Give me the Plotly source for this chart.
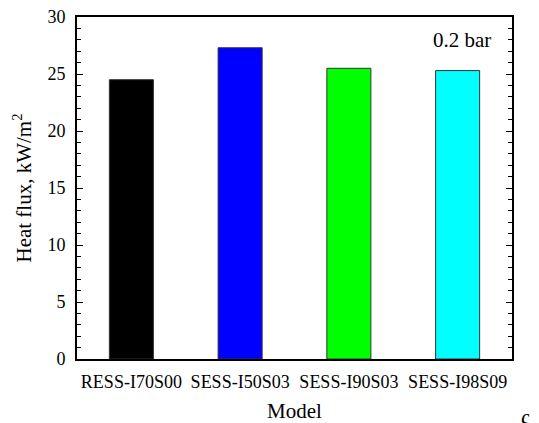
import plotly.graph_objects as go

models = ["RESS-I70S00", "SESS-I50S03", "SESS-I90S03", "SESS-I98S09"]
heat_flux = [24.5, 27.3, 25.5, 25.3]
colors = ["#000000", "#0000FF", "#00FF00", "#00FFFF"]

FONT = "Liberation Serif, Times New Roman, serif"
W, H = 539, 423
L, R, T, B = 77, 27, 17, 64

fig = go.Figure()
fig.add_trace(go.Bar(
    x=models, y=heat_flux,
    marker=dict(color=colors, line=dict(color="#333333", width=1)),
    width=0.405,
))

fig.update_layout(
    width=W, height=H,
    margin=dict(l=L, r=R, t=T, b=B, autoexpand=False),
    paper_bgcolor="white", plot_bgcolor="white",
    font=dict(family=FONT, size=18, color="black"),
    showlegend=False,
    xaxis=dict(
        showline=True, linecolor="black", linewidth=2, mirror=True,
        ticks="", showgrid=False,
        tickfont=dict(size=18), ticklabelstandoff=5,
        title=dict(text="Model", font=dict(size=21), standoff=16),
        automargin=False,
    ),
    yaxis=dict(
        range=[0, 30], dtick=5, tick0=0,
        showline=True, linecolor="black", linewidth=2, mirror="ticks",
        ticks="inside", ticklen=6, tickwidth=1, tickcolor="black",
        minor=dict(dtick=1, ticks="inside", ticklen=4, tickwidth=1, tickcolor="black"),
        showgrid=False, zeroline=False,
        tickfont=dict(size=18), ticklabelstandoff=6,
        title=dict(text="Heat flux, kW/m<sup>2</sup>", font=dict(size=21), standoff=10),
        automargin=False,
    ),
    annotations=[
        dict(text="0.2 bar", xref="paper", yref="paper", x=0.885, y=0.933,
             showarrow=False, font=dict(size=21), xanchor="center", yanchor="middle"),
        dict(text="ς", xref="paper", yref="paper", x=(525 - L) / (W - L - R), y=(H - B - 402) / (H - T - B),
             showarrow=False, font=dict(size=22), xanchor="center", yanchor="top"),
    ],
)

fig.write_html("out.html", config={"displayModeBar": False},
               post_script="document.body.style.margin='0';")
